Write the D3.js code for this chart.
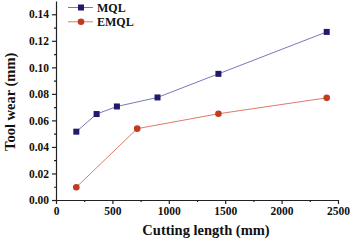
<!DOCTYPE html>
<html>
<head>
<meta charset="utf-8">
<script src="https://cdn.jsdelivr.net/npm/d3@7"></script>
<style>
  body { margin: 0; background: #fff; }
  text { font-family: "Liberation Serif", "DejaVu Serif", serif; font-weight: bold; }
</style>
</head>
<body>
<div id="chart"></div>
<script>
// cutting length (mm) and tool wear (mm)
var mqlLength = [180, 360, 540, 900, 1440, 2400];
var mqlWear = [0.0515, 0.0648, 0.0705, 0.0773, 0.0951, 0.1267];
var emqlLength = [180, 720, 1440, 2400];
var emqlWear = [0.0096, 0.0538, 0.065, 0.077];
var xTicks = [0, 500, 1000, 1500, 2000, 2500];
var yTicks = [0, 0.02, 0.04, 0.06, 0.08, 0.10, 0.12, 0.14];

var width = 350, height = 240;
var margin = {left: 56, right: 12, top: 1, bottom: 40};

var svg = d3.select('#chart').append('svg')
  .attr('width', width)
  .attr('height', height);

var x = d3.scaleLinear().domain([0, 2500]).range([margin.left, width - margin.right]);
var y = d3.scaleLinear().domain([0, 0.15]).range([height - margin.bottom, margin.top]);

// minor ticks
var xMinor = d3.range(250, 2500, 500);
var yMinor = d3.range(0.01, 0.15, 0.02);

svg.append('g')
  .attr('transform', 'translate(0,' + y(0) + ')')
  .call(d3.axisBottom(x).tickValues(xTicks).tickFormat(d3.format('d')).tickSize(4).tickSizeOuter(0).tickPadding(3));
svg.append('g')
  .attr('transform', 'translate(0,' + y(0) + ')')
  .call(d3.axisBottom(x).tickValues(xMinor).tickSize(2).tickFormat('').tickSizeOuter(0))
  .select('.domain').remove();

svg.append('g')
  .attr('transform', 'translate(' + x(0) + ',0)')
  .call(d3.axisLeft(y).tickValues(yTicks).tickFormat(d3.format('.2f')).tickSize(4).tickSizeOuter(0).tickPadding(3));
svg.append('g')
  .attr('transform', 'translate(' + x(0) + ',0)')
  .call(d3.axisLeft(y).tickValues(yMinor).tickSize(2).tickFormat('').tickSizeOuter(0))
  .select('.domain').remove();

svg.selectAll('.domain, .tick line').attr('stroke', '#222').attr('stroke-width', 1.2);
svg.selectAll('.tick text').style('font-size', '11.5px').attr('fill', '#111');

svg.append('text')
  .attr('x', 206)
  .attr('y', 235)
  .attr('text-anchor', 'middle')
  .style('font-size', '14.5px')
  .attr('fill', '#111')
  .text('Cutting length (mm)');

svg.append('text')
  .attr('transform', 'translate(15,' + y(0.074) + ') rotate(-90)')
  .attr('text-anchor', 'middle')
  .style('font-size', '14.5px')
  .attr('fill', '#111')
  .text('Tool wear (mm)');

var line = d3.line();

function series(xs, ys, lineColour, markColour, square){
  var pts = xs.map(function(d, i){ return [x(d), y(ys[i])]; });
  svg.append('path')
    .attr('d', line(pts))
    .attr('fill', 'none')
    .attr('stroke', lineColour)
    .attr('stroke-width', 1);
  if (square) {
    svg.selectAll(null).data(pts).enter().append('rect')
      .attr('x', function(d){ return d[0] - 3; })
      .attr('y', function(d){ return d[1] - 3; })
      .attr('width', 6).attr('height', 6)
      .attr('fill', markColour);
  } else {
    svg.selectAll(null).data(pts).enter().append('circle')
      .attr('cx', function(d){ return d[0]; })
      .attr('cy', function(d){ return d[1]; })
      .attr('r', 3.3)
      .attr('fill', markColour);
  }
}

series(mqlLength, mqlWear, '#7a78b8', '#1f1a6e', true);
series(emqlLength, emqlWear, '#e07a68', '#c23b1e', false);

// legend
var legend = [
  {name: 'MQL', line: '#7a78b8', mark: '#1f1a6e', square: true},
  {name: 'EMQL', line: '#e07a68', mark: '#c23b1e', square: false}
];
legend.forEach(function(d, i){
  var ly = 7.5 + i * 14.3;
  svg.append('line').attr('x1', 68).attr('x2', 93).attr('y1', ly).attr('y2', ly)
    .attr('stroke', d.line).attr('stroke-width', 1);
  if (d.square) {
    svg.append('rect').attr('x', 78).attr('y', ly - 3).attr('width', 6).attr('height', 6).attr('fill', d.mark);
  } else {
    svg.append('circle').attr('cx', 81).attr('cy', ly).attr('r', 3.3).attr('fill', d.mark);
  }
  svg.append('text').attr('x', 97).attr('y', ly + 4)
    .style('font-size', '12px').attr('fill', '#111').text(d.name);
});
</script>
</body>
</html>
